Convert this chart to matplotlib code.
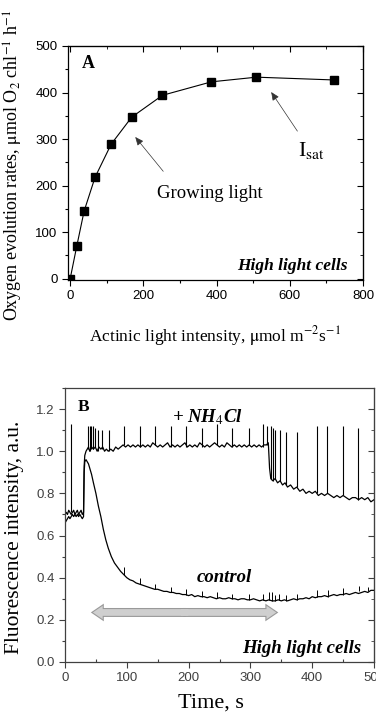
import matplotlib
matplotlib.use("Agg")
import matplotlib.pyplot as plt
from matplotlib.patches import FancyArrow
from matplotlib.ticker import MultipleLocator
import numpy as np

plt.rcParams['font.family'] = ['Liberation Serif', 'DejaVu Serif']
plt.rcParams['mathtext.fontset'] = 'stix'

# ---- panel A: light curve ----
light = [0, 18, 38, 68, 112, 168, 252, 386, 509, 721]
o2_rate = [0, 70, 145, 218, 289, 347, 394, 423, 433, 427]

# ---- panel B: fluorescence traces (baseline) ----
nh4_t = [0, 2, 4, 6, 8, 10, 12, 14, 16, 18, 20, 22, 24, 26, 28, 30,
         31, 32, 34, 36, 38, 40, 43, 46, 49, 52, 55, 58, 61, 64, 67, 70,
         74, 78, 82, 86, 90, 94, 98, 102, 106, 110, 114, 118, 122, 126, 130,
         134, 138, 142, 146, 150, 154, 158, 162, 166, 170, 174, 178, 182, 186,
         190, 194, 198, 202, 206, 210, 214, 218, 222, 226, 230, 234, 238, 242,
         246, 250, 254, 258, 262, 266, 270, 274, 278, 282, 286, 290, 294, 298,
         302, 306, 310, 314, 318, 322, 326, 329,
         331, 333, 336, 340, 344, 348, 352, 356, 360, 365, 370, 375, 380, 385,
         390, 395, 400, 405, 410, 415, 420, 425, 430, 435, 440, 445, 450, 455,
         460, 465, 470, 475, 480, 485, 490, 495, 500]
nh4_v = [0.70, 0.71, 0.70, 0.72, 0.71, 0.70, 0.71, 0.72, 0.70, 0.71, 0.72, 0.70, 0.71, 0.72, 0.70, 0.71,
         0.93, 0.98, 1.00, 1.01, 1.02, 1.00, 1.02, 1.01, 1.02, 1.00, 1.02, 1.01, 1.02, 1.00, 1.01, 1.00,
         1.01, 1.00, 1.02, 1.01, 1.02, 1.03, 1.02, 1.03, 1.02, 1.03, 1.02, 1.03, 1.02, 1.03, 1.02,
         1.03, 1.02, 1.04, 1.03, 1.02, 1.03, 1.02, 1.03, 1.04, 1.02, 1.03, 1.02, 1.03, 1.02,
         1.03, 1.04, 1.02, 1.03, 1.02, 1.03, 1.02, 1.04, 1.03, 1.02, 1.03, 1.02, 1.03, 1.04,
         1.03, 1.02, 1.03, 1.02, 1.04, 1.03, 1.02, 1.03, 1.02, 1.03, 1.02, 1.03, 1.02, 1.03,
         1.02, 1.03, 1.02, 1.03, 1.02, 1.03, 1.03, 1.04,
         0.92, 0.87, 0.86, 0.87, 0.85, 0.86, 0.84, 0.85, 0.83, 0.84, 0.82, 0.83, 0.81, 0.82,
         0.80, 0.81, 0.80, 0.81, 0.79, 0.80, 0.79, 0.80, 0.79, 0.78, 0.79, 0.78, 0.79, 0.78,
         0.77, 0.78, 0.78, 0.77, 0.78, 0.77, 0.78, 0.76, 0.77]

ctrl_t = [0, 2, 4, 6, 8, 10, 12, 14, 16, 18, 20, 22, 24, 26, 28, 30,
          31, 32, 34, 36, 38, 40, 43, 46, 50, 54, 58, 62, 66, 70, 75, 80, 85,
          90, 95, 100, 105, 110, 115, 120, 125, 130, 135, 140, 145, 150, 155,
          160, 165, 170, 175, 180, 185, 190, 195, 200, 205, 210, 215, 220, 225,
          230, 235, 240, 245, 250, 255, 260, 265, 270, 275, 280, 285, 290, 295,
          300, 305, 310, 315, 320, 325, 330, 335, 340, 345, 350, 355, 360, 365,
          370, 375, 380, 385, 390, 395, 400, 405, 410, 415, 420, 425, 430, 435,
          440, 445, 450, 455, 460, 465, 470, 475, 480, 485, 490, 495, 500]
ctrl_v = [0.66, 0.67, 0.68, 0.69, 0.68, 0.69, 0.70, 0.69, 0.70, 0.69, 0.70, 0.69, 0.70, 0.69, 0.68, 0.69,
          0.90, 0.95, 0.96, 0.95, 0.94, 0.92, 0.89, 0.85, 0.80, 0.74, 0.69, 0.63, 0.58, 0.54, 0.50, 0.47, 0.45,
          0.43, 0.415, 0.40, 0.39, 0.385, 0.375, 0.37, 0.365, 0.36, 0.355, 0.35, 0.345, 0.345, 0.34,
          0.335, 0.335, 0.33, 0.33, 0.325, 0.325, 0.32, 0.32, 0.315, 0.32, 0.31, 0.315, 0.31, 0.31,
          0.305, 0.31, 0.305, 0.30, 0.305, 0.30, 0.30, 0.305, 0.30, 0.30, 0.295, 0.30, 0.30, 0.295,
          0.295, 0.30, 0.295, 0.29, 0.295, 0.29, 0.295, 0.29, 0.29, 0.295, 0.29, 0.295, 0.29, 0.295,
          0.30, 0.295, 0.30, 0.30, 0.305, 0.30, 0.31, 0.305, 0.31, 0.31, 0.315, 0.31, 0.315, 0.32,
          0.315, 0.32, 0.32, 0.325, 0.32, 0.325, 0.33, 0.325, 0.33, 0.335, 0.33, 0.34, 0.34]

# saturating flashes: time, baseline, peak
nh4_spk_t = [10, 37, 40, 42, 46, 49, 53, 60, 72, 96, 122, 146, 171, 196, 222, 246, 271, 297, 320, 327,
             333, 336, 340, 348, 358, 376, 407, 424, 450, 474]
nh4_spk_base = [0.71, 1.01, 1.00, 1.01, 1.01, 1.02, 1.00, 1.01, 1.00, 1.03, 1.02, 1.03, 1.02, 1.02, 1.02,
                1.03, 1.02, 1.03, 1.02, 1.03, 0.87, 0.86, 0.87, 0.86, 0.84, 0.83, 0.80, 0.80, 0.79, 0.77]
nh4_spk_peak = [1.13, 1.12, 1.12, 1.12, 1.12, 1.11, 1.10, 1.10, 1.10, 1.12, 1.12, 1.12, 1.12, 1.12, 1.11,
                1.13, 1.11, 1.11, 1.13, 1.12, 1.12, 1.11, 1.10, 1.10, 1.09, 1.09, 1.12, 1.12, 1.12, 1.11]
ctrl_spk_t = [96, 122, 146, 171, 196, 222, 246, 271, 297, 320, 330, 335, 340, 346, 358, 376, 408, 425, 450,
              476, 490]
ctrl_spk_base = [0.415, 0.37, 0.345, 0.33, 0.32, 0.31, 0.305, 0.30, 0.295, 0.295, 0.295, 0.29, 0.29, 0.295,
                 0.29, 0.295, 0.31, 0.31, 0.32, 0.335, 0.335]
ctrl_spk_peak = [0.45, 0.40, 0.37, 0.355, 0.345, 0.335, 0.33, 0.325, 0.325, 0.325, 0.33, 0.33, 0.32, 0.325,
                 0.32, 0.325, 0.34, 0.34, 0.35, 0.36, 0.355]

fig = plt.figure(figsize=(3.76, 7.14), dpi=100)

# ================= panel A =================
axA = fig.add_axes([68 / 376, 1 - 280 / 714, 295 / 376, 234 / 714])
axA.plot(light, o2_rate, color='black', lw=0.8, marker='s', ms=5.5, mfc='black', mec='black')
axA.set_xlim(-6, 800)
axA.set_ylim(-3, 500)
axA.xaxis.set_major_locator(MultipleLocator(200))
axA.xaxis.set_minor_locator(MultipleLocator(100))
axA.yaxis.set_major_locator(MultipleLocator(100))
axA.yaxis.set_minor_locator(MultipleLocator(50))
axA.tick_params(which='major', direction='out', length=4, width=0.8, labelsize=9.5)
axA.tick_params(which='minor', direction='out', length=2.5, width=0.8)
for lab in axA.get_xticklabels() + axA.get_yticklabels():
    lab.set_family(['Liberation Sans', 'DejaVu Sans'])
for s in axA.spines.values():
    s.set_linewidth(0.9)
secx = axA.secondary_xaxis('top')
secx.xaxis.set_major_locator(MultipleLocator(200))
secx.xaxis.set_minor_locator(MultipleLocator(100))
secx.tick_params(which='both', direction='in', labeltop=False)
secx.tick_params(which='major', length=4)
secx.tick_params(which='minor', length=2.5)
secy = axA.secondary_yaxis('right')
secy.yaxis.set_major_locator(MultipleLocator(100))
secy.yaxis.set_minor_locator(MultipleLocator(50))
secy.tick_params(which='both', direction='in', labelright=False)
secy.tick_params(which='major', length=4)
secy.tick_params(which='minor', length=2.5)

axA.text(33, 463, 'A', fontsize=13, fontweight='bold', ha='left', va='center')
axA.text(382, 184, 'Growing light', fontsize=13.5, ha='center', va='center')
axA.annotate('', xy=(173, 309), xytext=(259, 226),
             arrowprops=dict(arrowstyle='-|>,head_length=0.5,head_width=0.22', color='#333333', lw=0.5))
axA.text(622, 276, r'I$_{\mathrm{sat}}$', fontsize=16, ha='left', va='center')
axA.annotate('', xy=(545, 406), xytext=(625, 312),
             arrowprops=dict(arrowstyle='-|>,head_length=0.5,head_width=0.22', color='#333333', lw=0.5))
axA.text(759, 27, 'High light cells', fontsize=12.5, fontweight='bold', style='italic',
         ha='right', va='center')

fig.text(13 / 376, 1 - 165 / 714, r'Oxygen evolution rates, $\mathrm{\mu}$mol O$_2$ chl$^{-1}$ h$^{-1}$',
         rotation=90, fontsize=13, ha='center', va='center')
fig.text(215 / 376, 1 - 336 / 714, r'Actinic light intensity, $\mathrm{\mu}$mol m$^{-2}$s$^{-1}$',
         fontsize=12.5, ha='center', va='center')

# ================= panel B =================
gray = '#404040'
axB = fig.add_axes([65 / 376, 1 - 662 / 714, 309 / 376, 274 / 714])
axB.plot(nh4_t, nh4_v, color='black', lw=0.9)
axB.plot(ctrl_t, ctrl_v, color='black', lw=0.9)
axB.vlines(nh4_spk_t, nh4_spk_base, nh4_spk_peak, color='black', lw=0.8)
axB.vlines(ctrl_spk_t, ctrl_spk_base, ctrl_spk_peak, color='black', lw=0.7)
axB.set_xlim(0, 500)
axB.set_ylim(0, 1.3)
axB.xaxis.set_major_locator(MultipleLocator(100))
axB.xaxis.set_minor_locator(MultipleLocator(50))
axB.yaxis.set_major_locator(MultipleLocator(0.2))
axB.yaxis.set_minor_locator(MultipleLocator(0.1))
axB.yaxis.set_major_formatter(plt.FormatStrFormatter('%.1f'))
axB.tick_params(which='major', direction='out', length=4, width=0.8, labelsize=9.5,
                color=gray, labelcolor=gray)
axB.tick_params(axis='y', which='minor', direction='out', length=2.5, width=0.8, color=gray)
axB.tick_params(axis='x', which='minor', direction='in', length=2.5, width=0.8, color=gray)
for lab in axB.get_xticklabels() + axB.get_yticklabels():
    lab.set_family(['Liberation Sans', 'DejaVu Sans'])
for s in axB.spines.values():
    s.set_linewidth(0.9)
    s.set_color(gray)
secyB = axB.secondary_yaxis('right')
secyB.yaxis.set_major_locator(MultipleLocator(0.2))
secyB.yaxis.set_minor_locator(MultipleLocator(0.1))
secyB.tick_params(which='both', direction='in', labelright=False, color=gray)
secyB.tick_params(which='major', length=4)
secyB.tick_params(which='minor', length=2.5)
secyB.spines['right'].set_color(gray)

# grey double arrow: outlined layer first, then an overlapping fill layer hides the joint
arr_start, arr_end, arr_y = 45, 342, 0.235
mid = (arr_start + arr_end) / 2
for ec, lw, lap in [('#999999', 1.6, 0), ('none', 0, 6)]:
    for tip, sgn in ((arr_start, 1), (arr_end, -1)):
        x0 = mid + sgn * lap
        axB.add_patch(FancyArrow(x0, arr_y, tip - x0, 0, width=0.032, head_width=0.064,
                                 head_length=16, length_includes_head=True,
                                 facecolor='#cfcfcf', edgecolor=ec, lw=lw, zorder=3))

axB.text(21, 1.21, 'B', fontsize=12.5, fontweight='bold', ha='left', va='center')
axB.text(173, 1.163, r'+ NH$_{4}$Cl', fontsize=13.5, fontweight='bold', style='italic',
         ha='left', va='center')
axB.text(213, 0.40, 'control', fontsize=13.5, fontweight='bold', style='italic',
         ha='left', va='center')
axB.text(480, 0.062, 'High light cells', fontsize=13.5, fontweight='bold', style='italic',
         ha='right', va='center')

fig.text(15 / 376, 1 - 537 / 714, 'Fluorescence intensity, a.u.', rotation=90,
         fontsize=15.5, ha='center', va='center')
fig.text(211 / 376, 1 - 703 / 714, 'Time, s', fontsize=16, ha='center', va='center')

fig.savefig('out.png', dpi=100)
